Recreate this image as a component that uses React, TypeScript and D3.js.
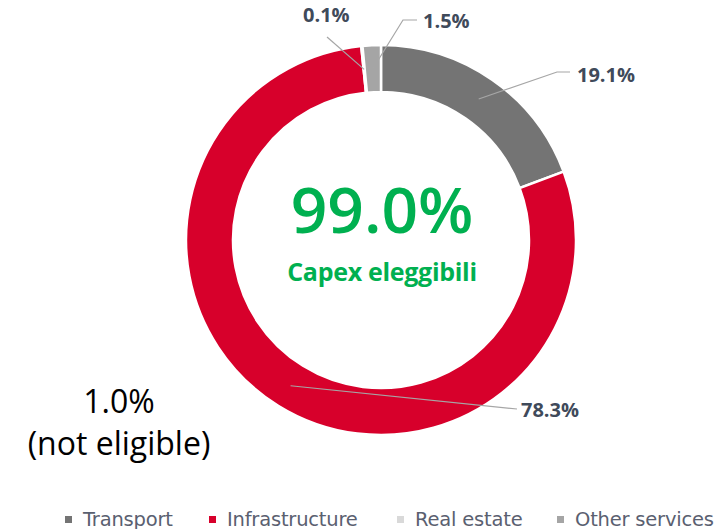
import React from "react";
import * as d3 from "d3";

const categories = ["Transport", "Infrastructure", "Real estate", "Other services"];
const values = [19.1, 78.3, 0.1, 1.5];
const valueLabels = ["19.1%", "78.3%", "0.1%", "1.5%"];
const colors = ["#747474", "#d7002b", "#d9d9d9", "#a5a5a5"];
const centerValue = "99.0%";
const centerLabel = "Capex eleggibili";
const notEligibleValue = "1.0%";
const notEligibleLabel = "(not eligible)";

// label layout: elbow point, line end, text position (screen px)
const labelLayout = [
  { elbow: [557, 72], end: [570, 72], text: [577, 82] },
  { elbow: null, end: [517, 409], text: [521, 417] },
  { elbow: null, end: [327, 37], text: [303, 22] },
  { elbow: [403, 20], end: [417, 20], text: [423, 28] },
];
const legendX = [65, 209, 397, 557];

const W = 716;
const H = 529;
const cx = 381;
const cy = 240;
const rOuter = 195;
const rInner = 148;

export default function App() {
  const pie = d3
    .pie<number>()
    .sort(null)
    .value((d) => d)
    .startAngle(0)
    .endAngle(2 * Math.PI);
  const arcs = pie(values);
  const arc = d3.arc<d3.PieArcDatum<number>>().innerRadius(rInner).outerRadius(rOuter);
  const mid = d3
    .arc<d3.PieArcDatum<number>>()
    .innerRadius((rInner + rOuter) / 2)
    .outerRadius((rInner + rOuter) / 2);

  return (
    <svg
      width={W}
      height={H}
      style={{ position: "absolute", left: 0, top: 0, background: "#fff" }}
    >
      <g transform={`translate(${cx},${cy})`}>
        {arcs.map((a, i) => (
          <path key={i} d={arc(a) || ""} fill={colors[i]} stroke="#fff" strokeWidth={2.5} />
        ))}
      </g>
      {arcs.map((a, i) => {
        const [mx, my] = mid.centroid(a);
        const L = labelLayout[i];
        const pts: number[][] = [[cx + mx, cy + my]];
        if (L.elbow) pts.push(L.elbow);
        pts.push(L.end);
        return (
          <g key={"l" + i}>
            <polyline
              points={pts.map((p) => p.join(",")).join(" ")}
              fill="none"
              stroke="#a6a6a6"
              strokeWidth={1.2}
            />
            <text
              x={L.text[0]}
              y={L.text[1]}
              fontFamily="'Open Sans', sans-serif"
              fontWeight={700}
              fontSize={20}
              fill="#404a5a"
            >
              {valueLabels[i]}
            </text>
          </g>
        );
      })}
      <text
        x={382}
        y={233}
        textAnchor="middle"
        fontFamily="'Open Sans', sans-serif"
        fontWeight={600}
        fontSize={64}
        fill="#00b050"
      >
        {centerValue}
      </text>
      <text
        x={382}
        y={281}
        textAnchor="middle"
        fontFamily="'Open Sans', sans-serif"
        fontWeight={700}
        fontSize={25}
        fill="#00b050"
        letterSpacing={-0.3}
      >
        {centerLabel}
      </text>
      <text
        x={119}
        y={413}
        textAnchor="middle"
        fontFamily="'Open Sans', sans-serif"
        fontSize={32}
        fill="#000"
      >
        {notEligibleValue}
      </text>
      <text
        x={119}
        y={455}
        textAnchor="middle"
        fontFamily="'Open Sans', sans-serif"
        fontSize={32}
        fill="#000"
      >
        {notEligibleLabel}
      </text>
      {categories.map((c, i) => (
        <g key={"lg" + i}>
          <rect x={legendX[i]} y={516} width={7} height={7} fill={colors[i]} />
          <text
            x={legendX[i] + 18}
            y={526}
            fontFamily="'DejaVu Sans', sans-serif"
            fontSize={19.5}
            fill="#5a6070"
            letterSpacing={-0.2}
          >
            {c}
          </text>
        </g>
      ))}
    </svg>
  );
}
